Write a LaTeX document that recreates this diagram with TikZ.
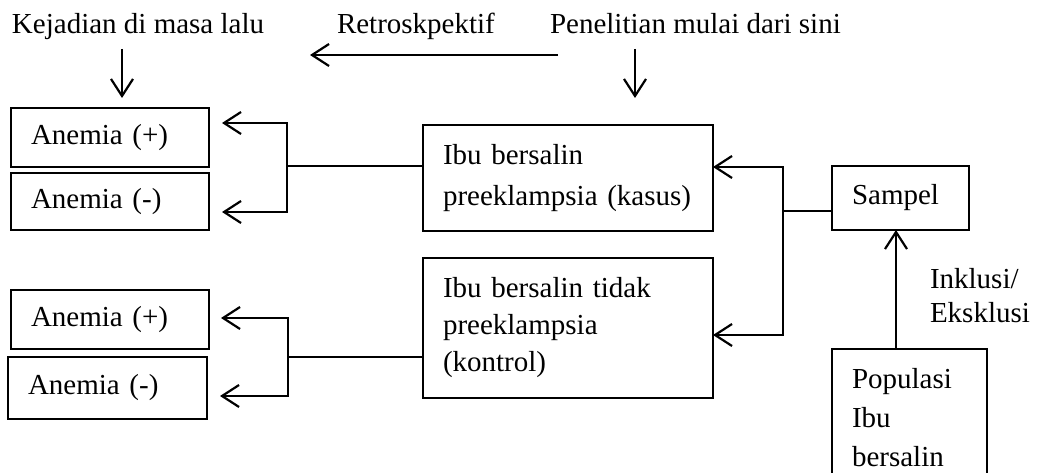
\documentclass[tikz,border=0pt]{standalone}
\usepackage{fontspec}
\setmainfont{Liberation Serif}
\usetikzlibrary{arrows.meta}
\begin{document}
\begin{tikzpicture}[x=1pt,y=-1pt,
  box/.style={draw, line width=1.3pt, rectangle, anchor=north west, outer sep=0pt,
    inner xsep=20pt, inner ysep=0pt, align=left, font=\fontsize{29}{38}\selectfont},
  lbl/.style={font=\fontsize{29}{34}\selectfont, inner sep=0pt, outer sep=0pt},
  arr/.style={line width=2.2pt, line join=miter,
    -{Straight Barb[length=17pt,width=22pt,line width=2.2pt]}},
  conn/.style={line width=1.6pt}]
\useasboundingbox (0,0) rectangle (1039,473);

% top labels
\node[lbl, anchor=base west] (kej) at (12,34) {Kejadian di masa lalu};
\node[lbl, anchor=base west] (retro) at (337,34) {Retroskpektif};
\node[lbl, anchor=base west] (pen) at (550,34) {Penelitian mulai dari sini};

% boxes
\node[box, minimum height=59pt, text width=158pt] (ap1) at (11,108) {Anemia (+)};
\node[box, minimum height=57pt, text width=158pt] (am1) at (11,173) {Anemia (-)};
\node[box, minimum height=106pt, text width=250pt, font=\fontsize{29}{41}\selectfont] (kasus) at (423,125) {Ibu bersalin\\preeklampsia (kasus)};
\node[box, minimum height=59pt, text width=158pt] (ap2) at (11,290) {Anemia (+)};
\node[box, minimum height=62pt, text width=159pt] (am2) at (8,357) {Anemia (-)};
\node[box, minimum height=140pt, text width=250pt, font=\fontsize{29}{37}\selectfont] (kontrol) at (423,258) {Ibu bersalin tidak\\preeklampsia\\(kontrol)};
\node[box, minimum height=64pt, text width=97pt] (sampel) at (832,166) {Sampel};
\node[box, minimum height=138pt, text width=115pt, font=\fontsize{29}{39}\selectfont] (pop) at (832,349) {Populasi\\Ibu\\bersalin};
\node[lbl, anchor=north west, align=left] (inkl) at (930,268) {Inklusi/\\Eksklusi};

% coordinates
\coordinate (k1) at (122,49); \coordinate (k2) at (122,98);
\coordinate (p1) at (635,49); \coordinate (p2) at (635,98);
\coordinate (r1) at (558,55); \coordinate (r2) at (310,55);
\coordinate (b1) at (287,166); \coordinate (b1t) at (287,123); \coordinate (b1b) at (287,212);
\coordinate (b2) at (288,357); \coordinate (b2t) at (288,318); \coordinate (b2b) at (288,396);
\coordinate (rb) at (783,211); \coordinate (rbt) at (783,167); \coordinate (rbb) at (783,335);
\coordinate (pa) at (896,300);

% arrows
\draw[arr] (k1) -- (k2);
\draw[arr] (p1) -- (p2);
\draw[arr] (r1) -- (r2);

\draw[conn] (kasus.west |- b1) -- (b1);
\draw[arr, shorten >=13pt] (b1) -- (b1t) -- (ap1.east |- b1t);
\draw[arr, shorten >=13pt] (b1) -- (b1b) -- (am1.east |- b1b);

\draw[conn] (kontrol.west |- b2) -- (b2);
\draw[arr, shorten >=12pt] (b2) -- (b2t) -- (ap2.east |- b2t);
\draw[arr, shorten >=13pt] (b2) -- (b2b) -- (am2.east |- b2b);

\draw[conn] (sampel.west |- rb) -- (rb);
\draw[arr] (rb) -- (rbt) -- (kasus.east |- rbt);
\draw[arr] (rb) -- (rbb) -- (kontrol.east |- rbb);

\draw[arr] (pop.north -| pa) -- (sampel.south -| pa);
\end{tikzpicture}
\end{document}
